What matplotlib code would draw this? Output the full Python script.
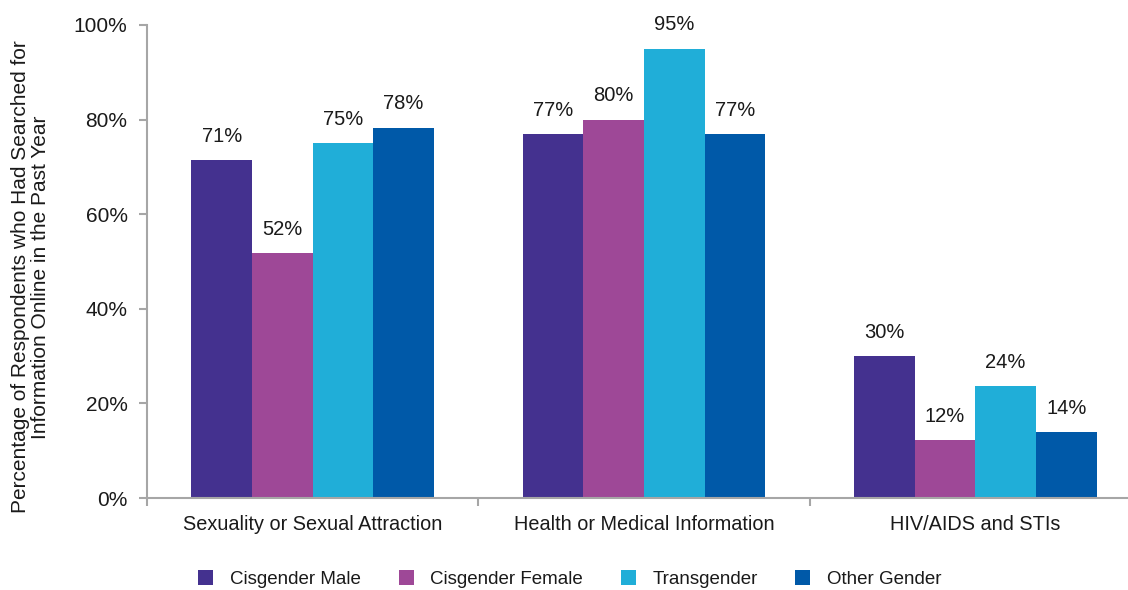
import matplotlib
matplotlib.use('Agg')
import matplotlib.pyplot as plt
import numpy as np

plt.rcParams['font.family'] = ['Liberation Sans', 'DejaVu Sans']

# Данные
categories = ['Sexuality or Sexual Attraction', 'Health or Medical Information', 'HIV/AIDS and STIs']
series = ['Cisgender Male', 'Cisgender Female', 'Transgender', 'Other Gender']
cis_male = [71.5, 77, 30]
cis_female = [51.8, 80, 12.3]
transgender = [75, 95, 23.7]
other_gender = [78.3, 77, 14]
labels = [[71, 77, 30], [52, 80, 12], [75, 95, 24], [78, 77, 14]]

colors = ['#44318F', '#9E4897', '#20AED8', '#0059A8']
values = [cis_male, cis_female, transgender, other_gender]

fig = plt.figure(figsize=(11.28, 5.9), dpi=100)
ax = fig.add_axes([147/1128, 92/590, 994/1128, 473/590])

x = np.arange(len(categories))
width = 0.183

for i, (vals, lab) in enumerate(zip(values, labels)):
    pos = x + (i - 1.5) * width
    ax.bar(pos, vals, width, color=colors[i], label=series[i])
    for p, v, t in zip(pos, vals, lab):
        ax.text(p, v + 3, f'{t}%', ha='center', va='bottom', fontsize=14.5, color='#1A1A1A')

ax.set_xlim(-0.5, 2.5)
ax.set_ylim(0, 100)
ax.set_yticks(np.arange(0, 101, 20))
ax.set_yticklabels([f'{v}%' for v in range(0, 101, 20)], fontsize=15, color='#1A1A1A')
ax.set_xticks(x)
ax.set_xticklabels(categories, fontsize=14.3, color='#1A1A1A')
ax.set_xticks([-0.5, 0.5, 1.5, 2.5], minor=True)
ax.tick_params(axis='x', which='major', length=0, pad=12)
ax.tick_params(axis='x', which='minor', length=6, width=1.5, color='#A6A6A6')
ax.tick_params(axis='y', length=6, width=1.5, color='#A6A6A6', pad=8)

for s in ['top', 'right']:
    ax.spines[s].set_visible(False)
for s in ['left', 'bottom']:
    ax.spines[s].set_color('#A6A6A6')
    ax.spines[s].set_linewidth(1.5)

ax.set_ylabel('Percentage of Respondents who Had Searched for\nInformation Online in the Past Year',
              fontsize=15, linespacing=1.05, color='#1A1A1A')
ax.yaxis.set_label_coords(-0.098, 0.467)

leg = ax.legend(loc='center', bbox_to_anchor=(570/1128, 11/590), bbox_transform=fig.transFigure,
                ncol=4, frameon=False, fontsize=13.5, handlelength=0.8, handleheight=0.8,
                columnspacing=2.0, handletextpad=0.9, borderaxespad=0.0)
for t in leg.get_texts():
    t.set_color('#1A1A1A')

fig.savefig('out.png', dpi=100)
